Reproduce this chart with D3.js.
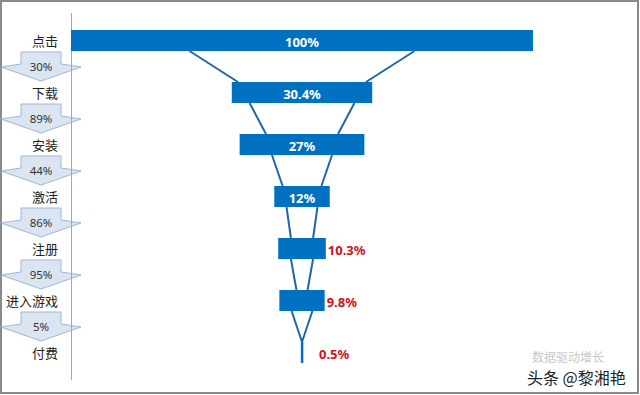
<!DOCTYPE html>
<html>
<head>
<meta charset="utf-8">
<script src="https://cdn.jsdelivr.net/npm/d3@7"></script>
<style>
  body { margin: 0; background: #fff; }
  svg { display: block; }
</style>
</head>
<body>
<svg id="chart" width="640" height="395"></svg>
<script>
// funnel stages, share of the first stage
const stages = ['点击', '下载', '安装', '激活', '注册', '进入游戏', '付费'];
const shares = [1, 0.304, 0.27, 0.12, 0.103, 0.098, 0.005];
const shareLabels = ['100%', '30.4%', '27%', '12%', '10.3%', '9.8%', '0.5%'];
// step conversion shown in the arrows
const stepRates = ['30%', '89%', '44%', '86%', '95%', '5%'];
// funnel outline (share units) where it leaves one bar and meets the next
const outlineOut = [0.487, 0.227, 0.13, 0.067, 0.048, 0.045];
const outlineIn = [0.277, 0.156, 0.084, 0.048, 0.024, 0];

const svg = d3.select('#chart');
const W = 640, H = 395;
const barH = 21;
const midX = 302;
const axisX = 71;

const x = d3.scaleLinear().domain([0, 1]).range([0, 462]);
const y = d3.scalePoint().domain(stages).range([40.5, 352.5]);

// frame
svg.append('rect')
  .attr('x', 1).attr('y', 1).attr('width', W - 3).attr('height', H - 3)
  .attr('fill', '#fff').attr('stroke', '#8a8a8a').attr('stroke-width', 2);

// step arrows
const arrow = d3.line();
stepRates.forEach((r, i) => {
  const top = y(stages[i]) + 11.5;
  const cx = 41;
  const pts = [
    [cx - 20, top], [cx + 20, top], [cx + 20, top + 12],
    [cx + 40, top + 15], [cx, top + 29], [cx - 40, top + 15],
    [cx - 20, top + 12]
  ];
  svg.append('path')
    .attr('d', arrow(pts) + 'Z')
    .attr('fill', '#dbe5f1').attr('stroke', '#9db6d6').attr('stroke-width', 1);
  svg.append('text')
    .attr('x', cx).attr('y', top + 14)
    .attr('text-anchor', 'middle').attr('dominant-baseline', 'central')
    .attr('font-family', 'Noto Sans, sans-serif').attr('font-size', 11.5)
    .attr('fill', '#333')
    .text(r);
});

// vertical axis line
svg.append('line')
  .attr('x1', axisX + 0.5).attr('x2', axisX + 0.5)
  .attr('y1', 13).attr('y2', 380)
  .attr('stroke', '#a6a6a6').attr('stroke-width', 1);

// stage labels
svg.selectAll('.stage')
  .data(stages)
  .join('text')
  .attr('class', 'stage')
  .attr('x', 58).attr('y', d => y(d))
  .attr('text-anchor', 'end').attr('dominant-baseline', 'central')
  .attr('font-family', 'Noto Sans CJK SC, sans-serif').attr('font-size', 13)
  .attr('fill', '#222')
  .text(d => d);

// funnel outline between bars
const lines = svg.append('g')
  .attr('stroke', '#1f67a6').attr('stroke-width', 2).attr('fill', 'none');
outlineOut.forEach((o, i) => {
  const y0 = y(stages[i]) + barH / 2;
  const y1 = y(stages[i + 1]) - barH / 2;
  [-1, 1].forEach(s => {
    lines.append('line')
      .attr('x1', midX + s * x(o) / 2).attr('y1', y0)
      .attr('x2', midX + s * x(outlineIn[i]) / 2).attr('y2', y1);
  });
});

// bars
svg.selectAll('.bar')
  .data(shares)
  .join('rect')
  .attr('class', 'bar')
  .attr('x', d => midX - x(d) / 2)
  .attr('y', (d, i) => y(stages[i]) - barH / 2)
  .attr('width', d => Math.max(x(d), 2.5))
  .attr('height', barH)
  .attr('fill', '#0070c0');

// value labels: white inside wide bars, red beside narrow ones
svg.selectAll('.val')
  .data(shares)
  .join('text')
  .attr('class', 'val')
  .attr('x', d => d > 0.11 ? midX : Math.max(midX + x(d) / 2 + 2, midX + 17))
  .attr('y', (d, i) => y(stages[i]) + 1)
  .attr('text-anchor', d => d > 0.11 ? 'middle' : 'start')
  .attr('dominant-baseline', 'central')
  .attr('font-family', 'Noto Sans, sans-serif').attr('font-size', 13)
  .attr('font-weight', 'bold')
  .attr('fill', d => d > 0.11 ? '#fff' : '#d0101a')
  .text((d, i) => shareLabels[i]);

// watermark
svg.append('text')
  .attr('x', 532).attr('y', 362)
  .attr('font-family', 'Noto Sans CJK SC, sans-serif').attr('font-size', 12)
  .attr('fill', '#c8c8c8')
  .text('数据驱动增长');
svg.append('text')
  .attr('x', 527).attr('y', 384)
  .attr('font-family', 'Noto Sans CJK SC, sans-serif').attr('font-size', 16)
  .attr('fill', '#222').attr('stroke', '#fff').attr('stroke-width', 3)
  .attr('paint-order', 'stroke')
  .text('头条 @黎湘艳');
</script>
</body>
</html>
